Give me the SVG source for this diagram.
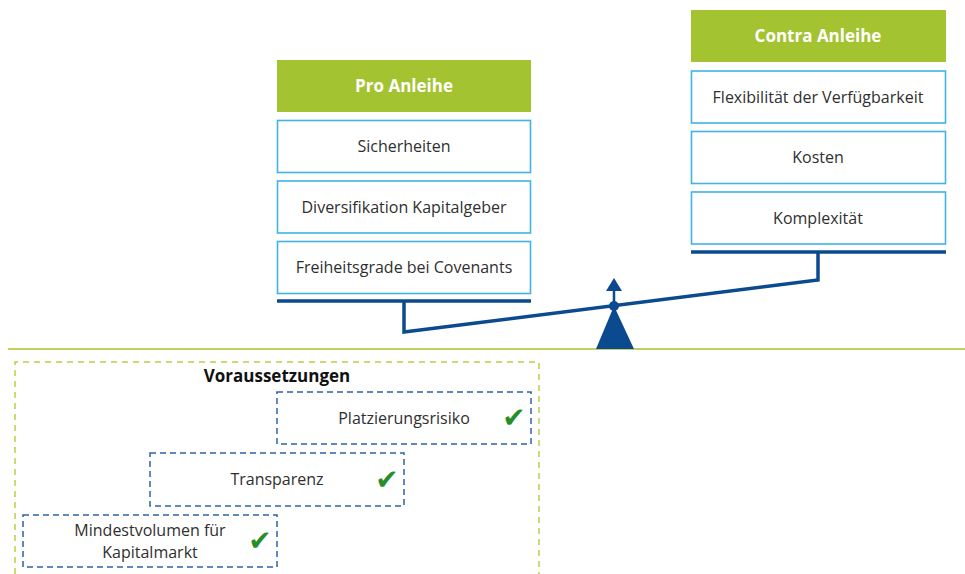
<svg xmlns="http://www.w3.org/2000/svg" width="965" height="574" viewBox="0 0 965 574">
  <style>
    .hdr { fill: #a4c330; }
    .hdr-t { font-family: "Open Sans", "Liberation Sans", sans-serif; font-size: 17px; font-weight: bold; fill: #ffffff; text-anchor: middle; }
    .box { fill: #ffffff; stroke: #3fb4e5; stroke-width: 1.6; }
    .t { font-family: "Open Sans", "Liberation Sans", sans-serif; font-size: 16px; fill: #2f2f2f; text-anchor: middle; }
    .bar { stroke: #0b4a8e; stroke-width: 3.5; fill: none; }
    .req { fill: none; stroke: #2e63a3; stroke-width: 1.5; stroke-dasharray: 6 4; }
    .chk { font-family: "DejaVu Sans", sans-serif; font-size: 28px; font-weight: bold; fill: #2a8d2c; text-anchor: middle; }
  </style>

  <!-- ground line -->
  <line x1="8" y1="349" x2="965" y2="349" stroke="#a4c330" stroke-width="1.5"/>

  <!-- Pro column -->
  <g id="pro-header">
    <rect class="hdr" x="277" y="60" width="254" height="52"/>
    <text class="hdr-t" x="404" y="92">Pro Anleihe</text>
  </g>
  <g id="pro-1">
    <rect class="box" x="277.5" y="120.5" width="253" height="52"/>
    <text class="t" x="404" y="152">Sicherheiten</text>
  </g>
  <g id="pro-2">
    <rect class="box" x="277.5" y="181" width="253" height="52"/>
    <text class="t" x="404" y="213">Diversifikation Kapitalgeber</text>
  </g>
  <g id="pro-3">
    <rect class="box" x="277.5" y="241.5" width="253" height="52"/>
    <text class="t" x="404" y="273">Freiheitsgrade bei Covenants</text>
  </g>

  <!-- Contra column -->
  <g id="contra-header">
    <rect class="hdr" x="691" y="10" width="255" height="52"/>
    <text class="hdr-t" x="818" y="42">Contra Anleihe</text>
  </g>
  <g id="contra-1">
    <rect class="box" x="691.5" y="71" width="254" height="52"/>
    <text class="t" x="818" y="103">Flexibilität der Verfügbarkeit</text>
  </g>
  <g id="contra-2">
    <rect class="box" x="691.5" y="131.5" width="254" height="52"/>
    <text class="t" x="818" y="163">Kosten</text>
  </g>
  <g id="contra-3">
    <rect class="box" x="691.5" y="192" width="254" height="52"/>
    <text class="t" x="818" y="224">Komplexität</text>
  </g>

  <!-- balance scale -->
  <g id="connectors">
    <line class="bar" x1="277" y1="301" x2="531" y2="301"/>
    <line class="bar" x1="691" y1="252" x2="946" y2="252"/>
    <polyline class="bar" points="404,301 404,332 818,280 818,252"/>
    <line x1="614" y1="306" x2="614" y2="289" stroke="#0b4a8e" stroke-width="2.5"/>
    <polygon points="606,291 622,291 614,278" fill="#0b4a8e"/>
    <polygon points="614,306 596,349 634,349" fill="#0b4a8e"/>
    <circle cx="614" cy="306" r="5" fill="#0b4a8e"/>
  </g>

  <!-- prerequisites -->
  <g id="voraussetzungen">
    <path d="M15,574 V362 H539 V574" fill="none" stroke="#b9cf45" stroke-width="1.5" stroke-dasharray="6 5"/>
    <text x="277" y="382" font-family="'Open Sans', 'Liberation Sans', sans-serif" font-size="17" font-weight="bold" fill="#111111" text-anchor="middle">Voraussetzungen</text>
  </g>
  <g id="req-platzierung">
    <rect class="req" x="277" y="392" width="254" height="52"/>
    <text class="t" x="404" y="424">Platzierungsrisiko</text>
    <text class="chk" x="514" y="427">✔</text>
  </g>
  <g id="req-transparenz">
    <rect class="req" x="150" y="453" width="254" height="53"/>
    <text class="t" x="277" y="485">Transparenz</text>
    <text class="chk" x="387" y="489">✔</text>
  </g>
  <g id="req-mindestvolumen">
    <rect class="req" x="23" y="515" width="254" height="52"/>
    <text class="t" x="150" y="536">Mindestvolumen für</text>
    <text class="t" x="150" y="558">Kapitalmarkt</text>
    <text class="chk" x="260" y="550">✔</text>
  </g>
</svg>
